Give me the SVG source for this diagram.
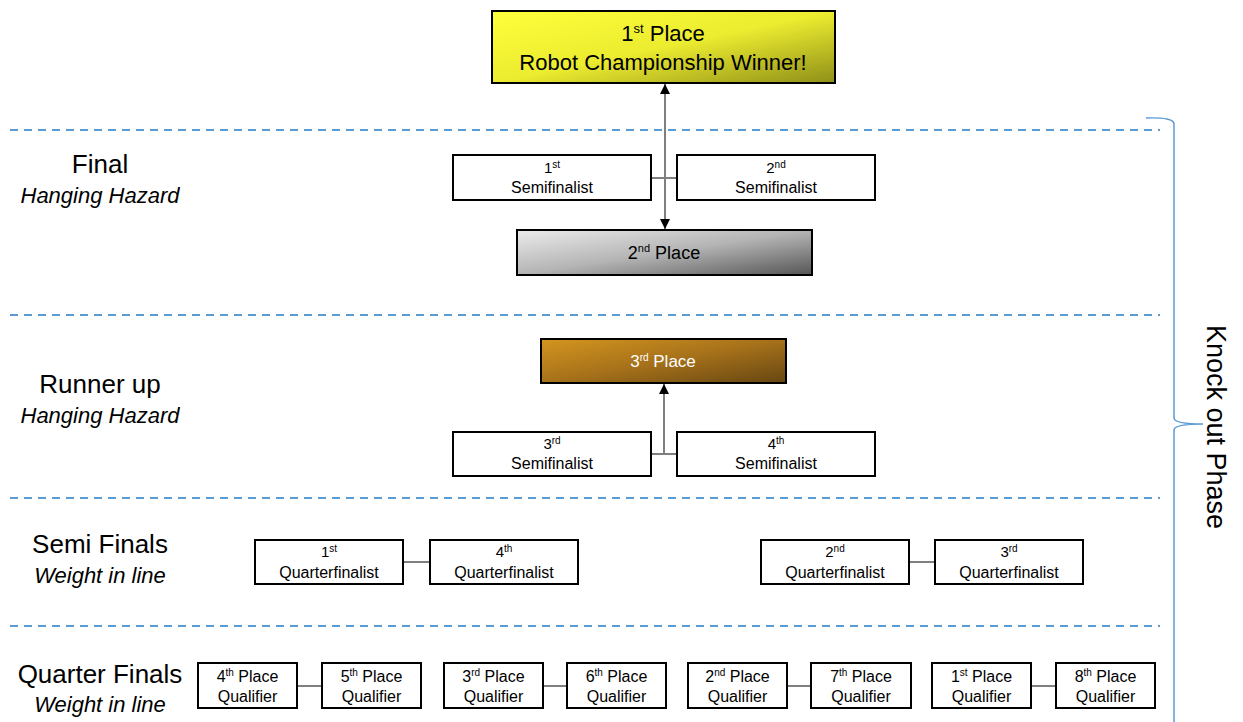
<svg xmlns="http://www.w3.org/2000/svg" width="1243" height="722" viewBox="0 0 1243 722">
<defs>
<linearGradient id="gYellow" x1="0" y1="0" x2="1" y2="1">
<stop offset="0" stop-color="#ffff3c"/>
<stop offset="0.5" stop-color="#ecec30"/>
<stop offset="1" stop-color="#8f8f18"/>
</linearGradient>
<linearGradient id="gGray" x1="0" y1="0" x2="1" y2="1">
<stop offset="0" stop-color="#ececec"/>
<stop offset="0.5" stop-color="#b4b4b4"/>
<stop offset="1" stop-color="#555555"/>
</linearGradient>
<linearGradient id="gBrown" x1="0" y1="0" x2="1" y2="1">
<stop offset="0" stop-color="#d4951f"/>
<stop offset="0.5" stop-color="#a6711a"/>
<stop offset="1" stop-color="#664612"/>
</linearGradient>
<marker id="arr" viewBox="0 0 10 10" refX="10" refY="5" markerWidth="5" markerHeight="5" orient="auto-start-reverse" markerUnits="strokeWidth">
<path d="M0,0 L10,5 L0,10 Z" fill="#000"/>
</marker>
</defs>
<style>
text{font-family:"Liberation Sans",Arial,sans-serif;fill:#000}
.box{fill:#fff;stroke:#000;stroke-width:2}
.t{font-size:16px;text-anchor:middle}
.n{font-size:15px}
.sup{font-size:10px}
.lbl{font-size:26px;text-anchor:middle}
.sub{font-size:22px;font-style:italic;text-anchor:middle}
.dash{stroke:#5b9bd5;stroke-width:2;stroke-dasharray:8 6;fill:none}
.con{stroke:#7f7f7f;stroke-width:2;fill:none}
</style>

<g id="separators">
<line class="dash" x1="10" y1="130" x2="1160" y2="130"/>
<line class="dash" x1="10" y1="315" x2="1160" y2="315"/>
<line class="dash" x1="10" y1="498" x2="1160" y2="498"/>
<line class="dash" x1="10" y1="626" x2="1160" y2="626"/>
</g>

<g id="stage-labels">
<text class="lbl" x="100" y="173">Final</text>
<text class="sub" x="100" y="203">Hanging Hazard</text>
<text class="lbl" x="100" y="393">Runner up</text>
<text class="sub" x="100" y="423">Hanging Hazard</text>
<text class="lbl" x="100" y="553">Semi Finals</text>
<text class="sub" x="100" y="583">Weight in line</text>
<text class="lbl" x="100" y="683">Quarter Finals</text>
<text class="sub" x="100" y="712">Weight in line</text>
</g>

<g id="connectors">
<line class="con" x1="665" y1="84" x2="665" y2="229" marker-start="url(#arr)" marker-end="url(#arr)"/>
<line class="con" x1="651" y1="178" x2="677" y2="178"/>
<line class="con" x1="664" y1="454" x2="664" y2="384" marker-end="url(#arr)"/>
<line class="con" x1="651" y1="454" x2="677" y2="454"/>
<line class="con" x1="403" y1="562" x2="430" y2="562"/>
<line class="con" x1="909" y1="562" x2="935" y2="562"/>
<line class="con" x1="297" y1="686" x2="322" y2="686"/>
<line class="con" x1="543" y1="686" x2="567" y2="686"/>
<line class="con" x1="787" y1="686" x2="811" y2="686"/>
<line class="con" x1="1031" y1="686" x2="1056" y2="686"/>
</g>

<g id="winner">
<rect x="492" y="11" width="343" height="72" fill="url(#gYellow)" stroke="#000" stroke-width="2"/>
<text x="663" y="41" style="font-size:22px;text-anchor:middle">1<tspan class="sup" style="font-size:13px" dy="-8">st</tspan><tspan dy="8"> Place</tspan></text>
<text x="663" y="70" style="font-size:22px;text-anchor:middle">Robot Championship Winner!</text>
</g>

<g id="semi1">
<rect class="box" x="453" y="155" width="198" height="45"/>
<text class="t" x="552" y="173"><tspan class="n">1</tspan><tspan class="sup" dy="-5">st</tspan></text>
<text class="t" x="552" y="193">Semifinalist</text>
</g>
<g id="semi2">
<rect class="box" x="677" y="155" width="198" height="45"/>
<text class="t" x="776" y="173"><tspan class="n">2</tspan><tspan class="sup" dy="-5">nd</tspan></text>
<text class="t" x="776" y="193">Semifinalist</text>
</g>

<g id="second-place">
<rect x="517" y="230" width="295" height="45" fill="url(#gGray)" stroke="#000" stroke-width="2"/>
<text x="664" y="259" style="font-size:18px;text-anchor:middle">2<tspan style="font-size:11px" dy="-7">nd</tspan><tspan dy="7"> Place</tspan></text>
</g>

<g id="third-place">
<rect x="541" y="339" width="245" height="44" fill="url(#gBrown)" stroke="#000" stroke-width="2"/>
<text x="663" y="367" style="font-size:17px;text-anchor:middle;fill:#fff">3<tspan style="font-size:10px;fill:#fff" dy="-6">rd</tspan><tspan style="fill:#fff" dy="6"> Place</tspan></text>
</g>

<g id="semi3">
<rect class="box" x="453" y="432" width="198" height="44"/>
<text class="t" x="552" y="449"><tspan class="n">3</tspan><tspan class="sup" dy="-5">rd</tspan></text>
<text class="t" x="552" y="469">Semifinalist</text>
</g>
<g id="semi4">
<rect class="box" x="677" y="432" width="198" height="44"/>
<text class="t" x="776" y="449"><tspan class="n">4</tspan><tspan class="sup" dy="-5">th</tspan></text>
<text class="t" x="776" y="469">Semifinalist</text>
</g>

<g id="qf1">
<rect class="box" x="255" y="540" width="148" height="44"/>
<text class="t" x="329" y="557"><tspan class="n">1</tspan><tspan class="sup" dy="-5">st</tspan></text>
<text class="t" x="329" y="578">Quarterfinalist</text>
</g>
<g id="qf4">
<rect class="box" x="430" y="540" width="148" height="44"/>
<text class="t" x="504" y="557"><tspan class="n">4</tspan><tspan class="sup" dy="-5">th</tspan></text>
<text class="t" x="504" y="578">Quarterfinalist</text>
</g>
<g id="qf2">
<rect class="box" x="761" y="540" width="148" height="44"/>
<text class="t" x="835" y="557"><tspan class="n">2</tspan><tspan class="sup" dy="-5">nd</tspan></text>
<text class="t" x="835" y="578">Quarterfinalist</text>
</g>
<g id="qf3">
<rect class="box" x="935" y="540" width="148" height="44"/>
<text class="t" x="1009" y="557"><tspan class="n">3</tspan><tspan class="sup" dy="-5">rd</tspan></text>
<text class="t" x="1009" y="578">Quarterfinalist</text>
</g>

<g id="q4">
<rect class="box" x="198" y="663" width="99" height="45"/>
<text class="t" x="247.5" y="682">4<tspan class="sup" dy="-6">th</tspan><tspan dy="6"> Place</tspan></text>
<text class="t" x="247.5" y="702">Qualifier</text>
</g>
<g id="q5">
<rect class="box" x="322" y="663" width="99" height="45"/>
<text class="t" x="371.5" y="682">5<tspan class="sup" dy="-6">th</tspan><tspan dy="6"> Place</tspan></text>
<text class="t" x="371.5" y="702">Qualifier</text>
</g>
<g id="q3">
<rect class="box" x="444" y="663" width="99" height="45"/>
<text class="t" x="493.5" y="682">3<tspan class="sup" dy="-6">rd</tspan><tspan dy="6"> Place</tspan></text>
<text class="t" x="493.5" y="702">Qualifier</text>
</g>
<g id="q6">
<rect class="box" x="567" y="663" width="99" height="45"/>
<text class="t" x="616.5" y="682">6<tspan class="sup" dy="-6">th</tspan><tspan dy="6"> Place</tspan></text>
<text class="t" x="616.5" y="702">Qualifier</text>
</g>
<g id="q2">
<rect class="box" x="688" y="663" width="99" height="45"/>
<text class="t" x="737.5" y="682">2<tspan class="sup" dy="-6">nd</tspan><tspan dy="6"> Place</tspan></text>
<text class="t" x="737.5" y="702">Qualifier</text>
</g>
<g id="q7">
<rect class="box" x="811" y="663" width="100" height="45"/>
<text class="t" x="861" y="682">7<tspan class="sup" dy="-6">th</tspan><tspan dy="6"> Place</tspan></text>
<text class="t" x="861" y="702">Qualifier</text>
</g>
<g id="q1">
<rect class="box" x="932" y="663" width="99" height="45"/>
<text class="t" x="981.5" y="682">1<tspan class="sup" dy="-6">st</tspan><tspan dy="6"> Place</tspan></text>
<text class="t" x="981.5" y="702">Qualifier</text>
</g>
<g id="q8">
<rect class="box" x="1056" y="663" width="99" height="45"/>
<text class="t" x="1105.5" y="682">8<tspan class="sup" dy="-6">th</tspan><tspan dy="6"> Place</tspan></text>
<text class="t" x="1105.5" y="702">Qualifier</text>
</g>

<g id="knockout-bracket">
<path d="M1146,118 Q1174,117 1174,124 L1174,418 Q1174,424 1203,424 Q1174,424 1174,430 L1174,722" fill="none" stroke="#5b9bd5" stroke-width="1.5"/>
<text transform="translate(1207,427) rotate(90)" style="font-size:27px;text-anchor:middle">Knock out Phase</text>
</g>
</svg>
